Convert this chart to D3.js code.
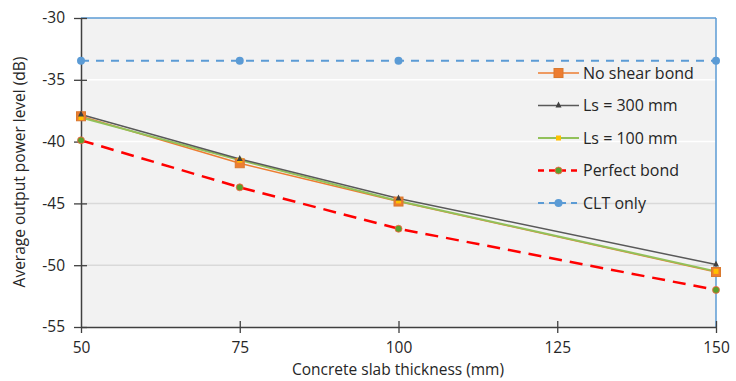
<!DOCTYPE html>
<html>
<head>
<meta charset="utf-8">
<script src="https://cdn.jsdelivr.net/npm/d3@7"></script>
<style>
  html, body { margin: 0; padding: 0; background: #ffffff; }
  svg text { font-family: "Open Sans", sans-serif; fill: #262626; }
</style>
</head>
<body>
<svg id="chart" width="736" height="381"></svg>
<script>
const thickness = [50, 75, 100, 150];
const noShear = [-37.95, -41.75, -44.85, -50.55];
const ls300 = [-37.8, -41.4, -44.6, -49.95];
const ls100 = [-38.05, -41.5, -44.8, -50.5];
const perfect = [-39.9, -43.7, -47.05, -52.0];
const cltOnly = [-33.45, -33.45, -33.45, -33.45];
const xTicks = [50, 75, 100, 125, 150];
const yTicks = [-30, -35, -40, -45, -50, -55];
const seriesNames = ["No shear bond", "Ls = 300 mm", "Ls = 100 mm", "Perfect bond", "CLT only"];

const svg = d3.select("#chart");
const L = 81, R = 716, T = 18, B = 327;
const x = d3.scaleLinear().domain([50, 150]).range([L, R]);
const y = d3.scaleLinear().domain([-55, -30]).range([B, T]);
const fmt = d => String(d);

// plot background
svg.append("rect").attr("x", L).attr("y", T).attr("width", R - L).attr("height", B - T).attr("fill", "#f2f2f2");

// gridlines
svg.append("g").selectAll("line").data(yTicks.filter(v => v > -55 && v < -30)).join("line")
  .attr("x1", L).attr("x2", R).attr("y1", d => y(d)).attr("y2", d => y(d))
  .attr("stroke", d => d >= -40 ? "#ffffff" : "#d9d9d9").attr("stroke-width", 1.5);

// top & right blue border
svg.append("line").attr("x1", L).attr("x2", R).attr("y1", T).attr("y2", T).attr("stroke", "#5b9bd5").attr("stroke-width", 1.5);
svg.append("line").attr("x1", R).attr("x2", R).attr("y1", T).attr("y2", B).attr("stroke", "#5b9bd5").attr("stroke-width", 1.5);

// axes
const yAxis = d3.axisLeft(y).tickValues(yTicks).tickSize(0).tickPadding(16).tickFormat(fmt);
const gy = svg.append("g").attr("transform", `translate(${L},0)`).call(yAxis);
gy.select(".domain").attr("stroke", "#404040").attr("stroke-width", 1.5);
gy.selectAll(".tick line").remove();
gy.selectAll(".tick").append("line").attr("x1", -7).attr("x2", 6).attr("stroke", "#404040").attr("stroke-width", 1.3);
gy.selectAll(".tick text").attr("font-size", 15.5).attr("font-family", "'Open Sans', sans-serif").attr("fill", "#262626");

const xAxis = d3.axisBottom(x).tickValues(xTicks).tickSize(0).tickPadding(15).tickFormat(fmt);
const gx = svg.append("g").attr("transform", `translate(0,${B})`).call(xAxis);
gx.select(".domain").attr("stroke", "#404040").attr("stroke-width", 1.5);
gx.selectAll(".tick line").remove();
gx.selectAll(".tick").append("line").attr("y1", d => d === 50 ? 0 : -6).attr("y2", 6).attr("stroke", "#404040").attr("stroke-width", 1.3);
gx.selectAll(".tick text").attr("font-size", 15.5).attr("font-family", "'Open Sans', sans-serif").attr("fill", "#262626");

// axis titles
svg.append("text").attr("transform", `translate(25,172) rotate(-90)`).attr("text-anchor", "middle")
  .attr("font-size", 15.5).text("Average output power level (dB)");
svg.append("text").attr("x", 398).attr("y", 375).attr("text-anchor", "middle")
  .attr("font-size", 15.5).text("Concrete slab thickness (mm)");

const line = d3.line().x(d => x(d[0])).y(d => y(d[1]));
const zip = vals => thickness.map((t, i) => [t, vals[i]]);

const series = [
  { name: seriesNames[0], vals: noShear, color: "#ed7d31", width: 1.5, dash: null, marker: "square", mcolor: "#ed7d31", msize: 9 },
  { name: seriesNames[1], vals: ls300, color: "#595959", width: 1.5, dash: null, marker: "triangle", mcolor: "#404040", msize: 6 },
  { name: seriesNames[2], vals: ls100, color: "#92c15a", width: 2, dash: null, marker: "square", mcolor: "#ffc000", msize: 5 },
  { name: seriesNames[3], vals: perfect, color: "#ff0000", width: 2.5, dash: "13,8", marker: "circle", mcolor: "#5aa02c", msize: 7 },
  { name: seriesNames[4], vals: cltOnly, color: "#5b9bd5", width: 2, dash: "8,7", marker: "circle", mcolor: "#5b9bd5", msize: 8 }
];

function drawMarker(g, s, cx, cy) {
  if (s.marker === "square") {
    g.append("rect").attr("x", cx - s.msize / 2).attr("y", cy - s.msize / 2).attr("width", s.msize).attr("height", s.msize)
      .attr("fill", s.mcolor).attr("stroke", s.name === "No shear bond" ? "#d9792e" : "none");
  } else if (s.marker === "triangle") {
    const h = s.msize;
    g.append("path").attr("d", `M${cx},${cy - h / 2 - 1}L${cx + h / 2},${cy + h / 2 - 1}L${cx - h / 2},${cy + h / 2 - 1}Z`).attr("fill", s.mcolor);
  } else {
    g.append("circle").attr("cx", cx).attr("cy", cy).attr("r", s.msize / 2).attr("fill", s.mcolor)
      .attr("stroke", s.name === "Perfect bond" ? "#ff6040" : "none").attr("stroke-width", 0.8);
  }
}

// draw order: CLT, perfect, no shear, ls100, ls300
const order = [4, 3, 0, 2, 1];
order.forEach(i => {
  const s = series[i];
  svg.append("path").attr("d", line(zip(s.vals))).attr("fill", "none").attr("stroke", s.color)
    .attr("stroke-width", s.width).attr("stroke-dasharray", s.dash);
});
order.forEach(i => {
  const s = series[i];
  const g = svg.append("g");
  zip(s.vals).forEach(p => drawMarker(g, s, x(p[0]), y(p[1])));
});

// legend
const lg = svg.append("g");
series.forEach((s, i) => {
  const ly = 73 + i * 32.5;
  lg.append("line").attr("x1", 538).attr("x2", 579).attr("y1", ly).attr("y2", ly)
    .attr("stroke", s.color).attr("stroke-width", s.width).attr("stroke-dasharray", s.dash ? "6,5" : null);
  drawMarker(lg, s, 558.5, ly);
  lg.append("text").attr("x", 583).attr("y", ly + 5.5).attr("font-size", 16).text(s.name);
});
</script>
</body>
</html>
